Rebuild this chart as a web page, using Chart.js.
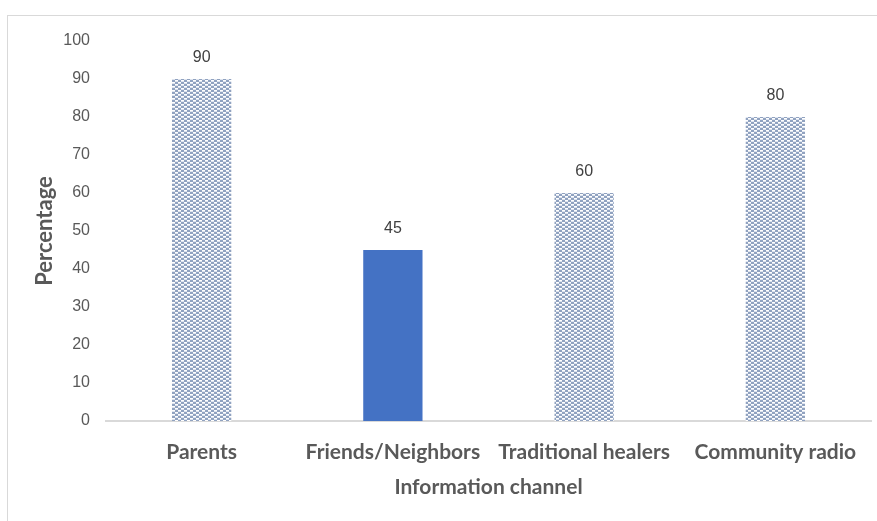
<!DOCTYPE html>
<html>
<head>
<meta charset="UTF-8">
<title>Information channel</title>
<script src="https://cdn.jsdelivr.net/npm/chart.js@4.4.0/dist/chart.umd.min.js"></script>
<style>
	body { margin:0; background:#fff; }
	#frame { position:absolute; left:7px; top:15px; width:900px; height:600px; border:1px solid #d9d9d9; }
	#wrap { position:absolute; left:0; top:0; width:877px; height:521px; }
</style>
</head>
<body>
<div id="frame"></div>
<div id="wrap"><canvas id="myChart" width="877" height="521"></canvas></div>
<script>
	let channels = ["Parents", "Friends/Neighbors", "Traditional healers", "Community radio"];
	let percentages = [90, 45, 60, 80];
	let yTicks = [0, 10, 20, 30, 40, 50, 60, 70, 80, 90, 100];

	// dotted fill like the office pattern
	function makePattern(){
		let c = document.createElement('canvas');
		c.width = 6; c.height = 4;
		let g = c.getContext('2d');
		g.fillStyle = '#90a2c0';
		g.fillRect(0, 0, 6, 4);
		g.fillStyle = '#ffffff';
		g.fillRect(1, 0, 3, 1);
		g.fillRect(4, 2, 2, 1);
		g.fillRect(0, 2, 1, 1);
		g.fillStyle = '#dde3ee';
		g.fillRect(1, 1, 3, 1);
		g.fillRect(4, 3, 2, 1);
		g.fillRect(0, 3, 1, 1);
		return document.getElementById('myChart').getContext('2d').createPattern(c, 'repeat');
	}
	let dots = makePattern();
	let barColors = [dots, '#4472c4', dots, dots];

	let valueLabels = {
		id: 'valueLabels',
		afterDatasetsDraw(chart){
			let ctx = chart.ctx;
			let meta = chart.getDatasetMeta(0);
			ctx.save();
			ctx.font = '16px "Liberation Sans"';
			ctx.fillStyle = '#404040';
			ctx.textAlign = 'center';
			ctx.textBaseline = 'middle';
			meta.data.forEach(function(bar, i){
				ctx.fillText(percentages[i], bar.x, bar.y - 21);
			});
			ctx.restore();
		}
	};

	new Chart("myChart", {
		type: "bar",
		data: {
			labels: channels,
			datasets: [{
				backgroundColor: barColors,
				data: percentages,
				categoryPercentage: 1,
				barPercentage: 0.31
			}]
		},
		options: {
			responsive: false,
			animation: false,
			layout: { padding: { top: 41, right: 6, left: 8, bottom: 0 } },
			plugins: { legend: { display: false }, tooltip: { enabled: false } },
			scales: {
				x: {
					grid: { display: false, drawTicks: false },
					border: { display: true, color: '#d9d9d9', width: 2 },
					ticks: { color: '#595959', padding: 19, font: { family: 'Lato', weight: 'bold', size: 21 } },
					title: { display: true, text: 'Information channel', color: '#595959', padding: { top: 0, bottom: 21 }, font: { family: 'Lato', weight: 'bold', size: 21 } },
					afterFit: function(s){ s.height = 100; }
				},
				y: {
					min: 0, max: 100,
					afterBuildTicks: function(s){ s.ticks = yTicks.map(v => ({ value: v })); },
					grid: { display: false, drawTicks: false },
					border: { display: false },
					ticks: { color: '#595959', padding: 16, font: { family: 'Liberation Sans', size: 16 } },
					title: { display: true, text: 'Percentage', color: '#595959', padding: { top: 24, bottom: 0 }, font: { family: 'Lato', weight: 'bold', size: 22 } },
					afterFit: function(s){ s.width = 98; }
				}
			}
		},
		plugins: [valueLabels]
	});
</script>
</body>
</html>
